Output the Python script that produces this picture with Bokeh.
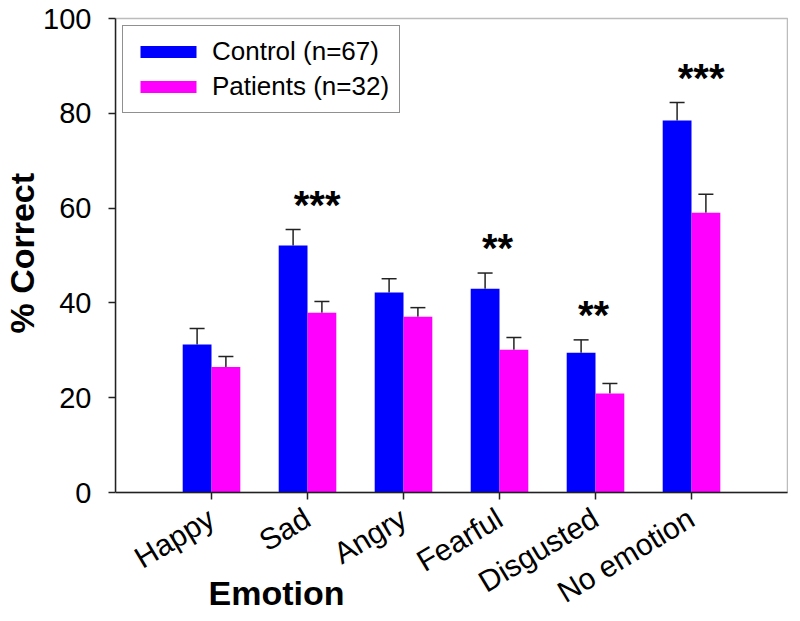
import math
from bokeh.plotting import figure
from bokeh.models import (ColumnDataSource, Range1d, FixedTicker, Whisker, TeeHead,
                          Legend, LegendItem, Label, BoxAnnotation, Title)
from bokeh.core.properties import value
from bokeh.embed import file_html
from bokeh.resources import INLINE

categories = ["Happy", "Sad", "Angry", "Fearful", "Disgusted", "No emotion"]
control = [31.2, 52.1, 42.2, 43.0, 29.5, 78.5]
control_err = [3.4, 3.4, 2.9, 3.3, 2.7, 3.8]
patients = [26.5, 37.9, 37.1, 30.1, 20.9, 59.0]
patients_err = [2.2, 2.4, 1.9, 2.6, 2.1, 3.9]
significance = ["", "***", "", "**", "**", "***"]
y_ticks = [0, 20, 40, 60, 80, 100]
series_names = ["Control (n=67)", "Patients (n=32)"]
x_title = "Emotion"
y_title = "% Correct"

FONT = "Liberation Sans"
LINE = "#222222"
pos = list(range(1, len(categories) + 1))
bw = 0.3
n_slots = len(categories) + 1

# layout (canvas pixels)
W, H = 784, 613
left, top = 111, 16
y_top_px, y_zero_px = 18, 492          # canvas pixel of 100 and of 0
ppu = (y_zero_px - y_top_px) / 100.0
y_lo = -(H - y_zero_px) / ppu
y_hi = 100 + (y_top_px - top) / ppu
frame_w = W - left
x_hi = n_slots + 1.0 / (frame_w / n_slots)
ppx = frame_w / x_hi

p = figure(frame_width=frame_w, frame_height=H - top,
           x_range=Range1d(0, x_hi), y_range=Range1d(y_lo, y_hi),
           output_backend="svg", toolbar_location=None,
           min_border_left=left, min_border_right=0,
           min_border_top=top, min_border_bottom=0)
p.background_fill_color = "white"
p.border_fill_color = "white"
p.outline_line_color = None
p.xgrid.visible = False
p.ygrid.visible = False

src_c = ColumnDataSource(dict(x=[v - bw / 2 for v in pos], top=control,
                              up=[a + b for a, b in zip(control, control_err)]))
src_p = ColumnDataSource(dict(x=[v + bw / 2 for v in pos], top=patients,
                              up=[a + b for a, b in zip(patients, patients_err)]))

r1 = p.vbar(x="x", top="top", width=bw, source=src_c, fill_color="#0000FF", line_color=None)
r2 = p.vbar(x="x", top="top", width=bw, source=src_p, fill_color="#FF00FF", line_color=None)

for s in (src_c, src_p):
    w = Whisker(source=s, base="x", lower="top", upper="up", dimension="height",
                lower_head=None,
                upper_head=TeeHead(size=15, line_color=LINE, line_width=1.5),
                line_color=LINE, line_width=1.5)
    p.add_layout(w)

# plot box (top and right edges)
p.add_layout(BoxAnnotation(left=0, right=n_slots, bottom=0, top=100,
                           fill_alpha=0, line_color=LINE, line_width=1.5, level="overlay"))

# significance markers
sig_x, sig_y, sig_t = [], [], []
for i, t in enumerate(significance):
    if t:
        sig_x.append(pos[i] + (0.1 if len(t) == 3 else -0.02))
        sig_y.append(control[i] + control_err[i] + 5.2)
        sig_t.append(t)
p.text(x=sig_x, y=sig_y, text=sig_t, text_font=value(FONT), text_font_style="bold",
       text_font_size="40px", text_align="center", text_baseline="alphabetic",
       text_color="black")

# axes
xa = p.xaxis[0]
xa.fixed_location = 0
xa.bounds = (0, n_slots)
xa.ticker = FixedTicker(ticks=pos)
xa.major_label_overrides = {v: c for v, c in zip(pos, categories)}
xa.major_label_orientation = math.radians(31)
xa.major_label_text_font = FONT
xa.major_label_text_font_size = "30px"
xa.major_label_text_color = "black"
xa.major_label_standoff = 16
xa.major_tick_in = 0
xa.major_tick_out = 7
xa.minor_tick_line_color = None
xa.axis_line_color = LINE
xa.axis_line_width = 1.5
xa.major_tick_line_color = LINE
xa.major_tick_line_width = 1.5

ya = p.yaxis[0]
ya.bounds = (0, 100)
ya.ticker = FixedTicker(ticks=y_ticks)
ya.major_label_text_font = FONT
ya.major_label_text_font_size = "29px"
ya.major_label_text_color = "black"
ya.major_label_standoff = 17
ya.major_tick_in = 0
ya.major_tick_out = 7
ya.minor_tick_line_color = None
ya.axis_line_color = LINE
ya.axis_line_width = 1.5
ya.major_tick_line_color = LINE
ya.major_tick_line_width = 1.5

# y title: its start ("%") placed at canvas y 333, text reads upwards
p.add_layout(Title(text=y_title, align="left", offset=H - 333,
                   standoff=0, text_font=FONT, text_font_style="bold",
                   text_font_size="34px", text_color="black"), "left")

p.add_layout(Label(x=(280 - 8 - left) / ppx, y=-(592 - y_zero_px) / ppu,
                   text=x_title, text_font=FONT, text_font_style="bold",
                   text_font_size="34px", text_align="center", text_baseline="middle",
                   text_color="black"))

legend = Legend(items=[LegendItem(label=series_names[0], renderers=[r1]),
                       LegendItem(label=series_names[1], renderers=[r2])],
                location=(7, H - 113), padding=10, spacing=4,
                label_standoff=9, glyph_width=70, glyph_height=15,
                label_text_font=FONT, label_text_font_size="26px",
                label_text_color="black",
                border_line_color=LINE, border_line_width=1.5,
                background_fill_color="white", background_fill_alpha=1)
p.add_layout(legend)

open("out.html", "w").write(file_html(p, INLINE))
